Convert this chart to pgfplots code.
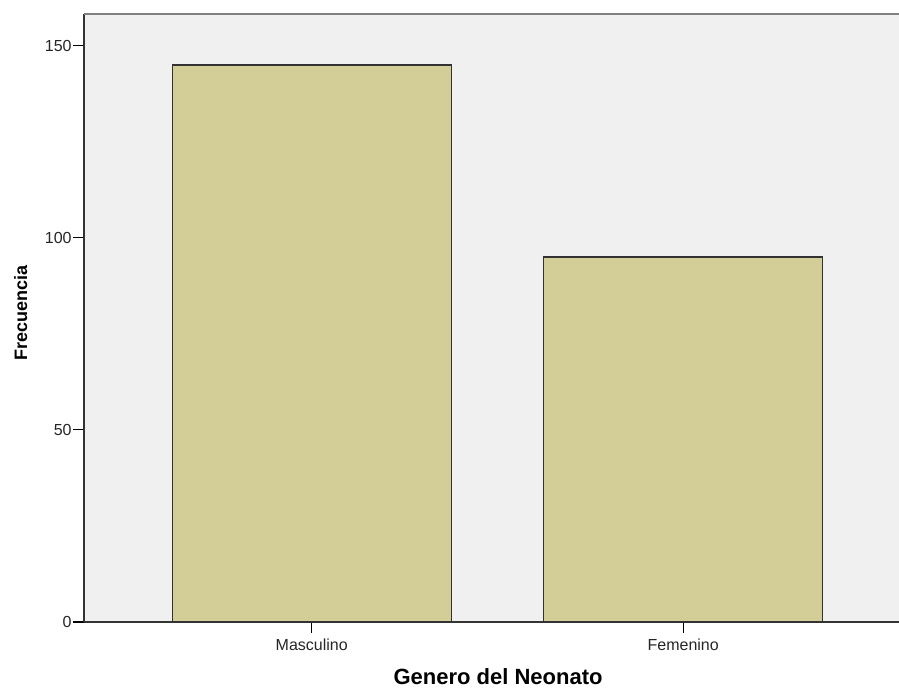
\documentclass[border=0pt]{standalone}
\usepackage{fontspec}
\setmainfont{Liberation Sans}
\usepackage{pgfplots}
\pgfplotsset{compat=1.18}
\definecolor{bgc}{RGB}{240,240,240}
\definecolor{barc}{RGB}{211,206,152}
\definecolor{edgec}{RGB}{50,50,50}
\begin{document}
\begin{tikzpicture}
\useasboundingbox (-63pt,-50.25pt) rectangle (611.25pt,466.5pt);
\begin{axis}[
  at={(0,0)}, anchor=south west,
  scale only axis, width=611.25pt, height=456pt,
  xmin=-0.613, xmax=1.581, ymin=0, ymax=158.3,
  axis x line*=bottom, axis y line*=left,
  axis line style={black!80, line width=1pt, -},
  axis background/.style={fill=bgc},
  xtick={0,1}, xticklabels={Masculino,Femenino},
  ytick={0,50,100,150},
  tick align=outside, major tick length=8pt,
  tick style={black, line width=0.8pt},
  xtick pos=bottom, ytick pos=left,
  /pgf/number format/assume math mode=true,
  ticklabel style={font=\fontsize{12}{14}\selectfont, text=black!85},
  xticklabel style={yshift=-1pt},
  yticklabel style={xshift=2.25pt},
  xlabel={Genero del Neonato}, ylabel={Frecuencia},
  xlabel style={at={(axis description cs:0.508,0)}, anchor=base, yshift=-46.5pt, font=\bfseries\fontsize{16.5}{18}\selectfont},
  ylabel style={at={(axis description cs:-0.0699,0.509)}, anchor=base, rotate=0, font=\bfseries\fontsize{13.5}{16}\selectfont},
  ybar, bar width=209.25pt,
  clip=false,
]
\addplot[fill=barc, draw=edgec, line width=1pt] coordinates {(0,145) (1,95)};
\draw[gray, line width=1.2pt] (rel axis cs:0,1) -- (rel axis cs:1,1);
\end{axis}
\end{tikzpicture}
\end{document}
